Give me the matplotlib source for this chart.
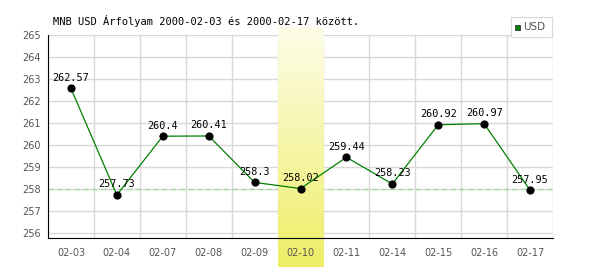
import numpy as np
import matplotlib
matplotlib.use("Agg")
import matplotlib.pyplot as plt
from matplotlib.colors import LinearSegmentedColormap

dates = ["02-03", "02-04", "02-07", "02-08", "02-09", "02-10",
         "02-11", "02-14", "02-15", "02-16", "02-17"]
usd = [262.57, 257.73, 260.4, 260.41, 258.3, 258.02,
       259.44, 258.23, 260.92, 260.97, 257.95]
labels = ["262.57", "257.73", "260.4", "260.41", "258.3", "258.02",
          "259.44", "258.23", "260.92", "260.97", "257.95"]
highlight = 5
ref_level = 258
yticks = list(range(256, 266))

mono = "DejaVu Sans Mono"
grid_c = "#d8d8d8"
tick_c = "#555555"

fig = plt.figure(figsize=(6, 2.7), dpi=100)
ax = fig.add_axes([48/600, 1-238/270, 505/600, 203/270])
x = np.arange(len(dates))
y0, y1 = 265 - 203/22, 265
ax.set_xlim(-0.5, len(dates) - 0.5)
ax.set_ylim(y0, y1)

# grid
for v in yticks:
    ax.axhline(v, color=grid_c, lw=1, zorder=0)
for b in np.arange(-0.5, len(dates)):
    ax.axvline(b, color=grid_c, lw=1, zorder=0)
ax.axhline(ref_level, color="#99d899", lw=0.9, ls=(0, (4, 3)), zorder=1)

# highlighted day, gradient band running past the plot area
cmap = LinearSegmentedColormap.from_list("hl", ["#eeee66", "#fdfde9"])
grad = np.linspace(0, 1, 256).reshape(-1, 1)
ax.imshow(grad, cmap=cmap, aspect="auto", origin="lower",
          extent=[highlight - 0.5, highlight + 0.5, y0 - 29/22, y1 + 8/22],
          clip_on=False, zorder=2)

ax.plot(x, usd, color="#008000", lw=0.9, zorder=3)
ax.scatter(x, usd, s=24, color="black", zorder=4)
for xi, yi, t in zip(x, usd, labels):
    ax.annotate(t, (xi, yi), xytext=(0, 4), textcoords="offset points",
                ha="center", va="bottom", fontsize=7.3, family=mono, zorder=5)

for s in ["top", "right"]:
    ax.spines[s].set_visible(False)
ax.spines["left"].set_zorder(6)
ax.spines["bottom"].set_zorder(6)

ax.set_xticks(x)
ax.set_xticklabels([])
ax.set_yticks(yticks)
ax.tick_params(length=0, labelsize=7, labelcolor=tick_c, pad=5)
# x labels as plain texts so they sit on top of the band
for xi, d in zip(x, dates):
    ax.annotate(d, (xi, 0), xycoords=("data", "axes fraction"),
                xytext=(0, -7), textcoords="offset points",
                ha="center", va="top", fontsize=7, color=tick_c,
                annotation_clip=False, zorder=7)

fig.text(53/600, 1-21/270, "MNB USD Árfolyam 2000-02-03 és 2000-02-17 között.",
         family=mono, fontsize=7.5, va="center", ha="left")

# legend box
lg = fig.add_axes([511/600, 1-37/270, 41/600, 20/270])
lg.set_xticks([]); lg.set_yticks([])
for s in lg.spines.values():
    s.set_color(grid_c)
lg.set_xlim(0, 41); lg.set_ylim(0, 20)
lg.add_patch(plt.Rectangle((4, 7), 5, 5, facecolor="#008000", edgecolor="#444444", lw=0.7))
lg.text(12, 9.5, "USD", fontsize=7.5, color=tick_c, va="center", ha="left")

fig.savefig("out.png", dpi=100)
